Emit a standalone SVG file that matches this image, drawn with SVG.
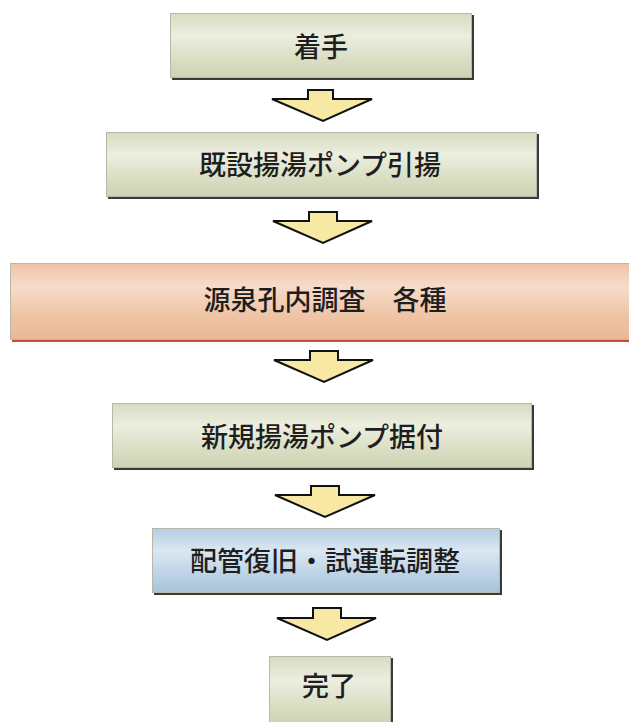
<svg xmlns="http://www.w3.org/2000/svg" width="629" height="722" viewBox="0 0 629 722">
<style>
.lbl{font-family:"Noto Sans CJK JP","Noto Sans CJK SC",sans-serif;font-size:27px;font-weight:500;fill:#1e1e1e;text-anchor:middle;dominant-baseline:central}
.shadow{fill:#3a3a3a}
.edge{fill:none;stroke:#b8b8a8;stroke-width:1}
.arrow{fill:#f7e8a4;stroke:#111;stroke-width:2;stroke-linejoin:miter}
</style>
<defs>
<linearGradient id="gGreen" x1="0" y1="0" x2="0" y2="1">
<stop offset="0" stop-color="#d6dbbf"/>
<stop offset="0.35" stop-color="#eceee0"/>
<stop offset="0.7" stop-color="#dadfc4"/>
<stop offset="1" stop-color="#ccd2b2"/>
</linearGradient>
<linearGradient id="gSalmon" x1="0" y1="0" x2="0" y2="1">
<stop offset="0" stop-color="#eec3a6"/>
<stop offset="0.3" stop-color="#f6dccb"/>
<stop offset="0.65" stop-color="#efc6a8"/>
<stop offset="1" stop-color="#e8b896"/>
</linearGradient>
<linearGradient id="gBlue" x1="0" y1="0" x2="0" y2="1">
<stop offset="0" stop-color="#b4cde2"/>
<stop offset="0.35" stop-color="#dae7f1"/>
<stop offset="0.7" stop-color="#bed3e6"/>
<stop offset="1" stop-color="#a8c2da"/>
</linearGradient>
</defs>
<g id="node-start">
<rect class="shadow" x="172" y="15" width="302" height="65"/>
<rect x="170" y="13" width="302" height="65" fill="url(#gGreen)"/>
<rect class="edge" x="170.5" y="13.5" width="301" height="64"/>
<text class="lbl" x="321" y="45">着手</text>
</g>
<g id="node-remove">
<rect class="shadow" x="108" y="134" width="431" height="65"/>
<rect x="106" y="132" width="431" height="65" fill="url(#gGreen)"/>
<rect class="edge" x="106.5" y="132.5" width="430" height="64"/>
<text class="lbl" x="320" y="163">既設揚湯ポンプ引揚</text>
</g>
<g id="node-survey">
<rect x="12" y="265" width="620" height="77" fill="#c0503a"/>
<rect x="10" y="263" width="620" height="77" fill="url(#gSalmon)"/>
<rect class="edge" x="10.5" y="263.5" width="620" height="76" stroke="#c4a08c"/>
<text class="lbl" x="325" y="298">源泉孔内調査　各種</text>
</g>
<g id="node-install">
<rect class="shadow" x="114" y="405" width="420" height="65"/>
<rect x="112" y="403" width="420" height="65" fill="url(#gGreen)"/>
<rect class="edge" x="112.5" y="403.5" width="419" height="64"/>
<text class="lbl" x="322" y="435">新規揚湯ポンプ据付</text>
</g>
<g id="node-restore">
<rect class="shadow" x="154" y="530" width="348" height="65" fill="#2a3550"/>
<rect x="152" y="528" width="348" height="65" fill="url(#gBlue)"/>
<rect class="edge" x="152.5" y="528.5" width="347" height="64" stroke="#9ab0c4"/>
<text class="lbl" x="325" y="559">配管復旧・試運転調整</text>
</g>
<g id="node-end">
<rect class="shadow" x="271" y="658" width="122" height="70"/>
<rect x="269" y="656" width="122" height="70" fill="url(#gGreen)"/>
<rect class="edge" x="269.5" y="656.5" width="121" height="70"/>
<text class="lbl" x="329" y="684">完了</text>
</g>
<g id="connectors">
<polygon class="arrow" points="308,90 333,90 333,99 372,99 323,121 272,99 308,99"/>
<polygon class="arrow" points="309,212 337,212 337,221 372,221 323,243 273,221 309,221"/>
<polygon class="arrow" points="310,351 338,351 338,360 373,360 324,382 274,360 310,360"/>
<polygon class="arrow" points="311,486 339,486 339,495 375,495 325,517 275,495 311,495"/>
<polygon class="arrow" points="313,608 341,608 341,618 376,618 327,640 277,618 313,618"/>
</g>
</svg>
